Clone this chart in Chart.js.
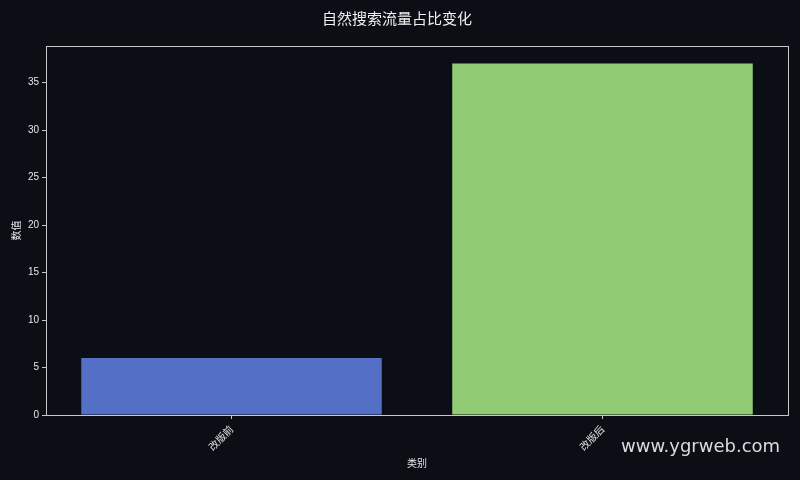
<!DOCTYPE html>
<html><head><meta charset="utf-8">
<script src="https://cdn.jsdelivr.net/npm/chart.js@4/dist/chart.umd.min.js"></script>
<style>
html,body{margin:0;padding:0;background:#0b0e15;}
#wrap{position:relative;width:800px;height:480px;}
#wm{position:absolute;left:621px;top:435px;font-family:"DejaVu Sans","Noto Sans",sans-serif;font-size:18px;color:#dcdcdc;white-space:nowrap;}
</style></head>
<body><div id="wrap"><canvas id="c" width="800" height="480"></canvas><div id="wm">www.ygrweb.com</div></div>
<script>
const categories = ["改版前", "改版后"];
const values = [6, 37];
const barColors = ["#5470c6", "#91cc75"];
const yTicks = [0, 5, 10, 15, 20, 25, 30, 35];
const titleText = "自然搜索流量占比变化";
const xTitle = "类别";
const yTitle = "数值";

const frame = {
  id: 'frame',
  afterDatasetsDraw(chart) {
    const a = chart.chartArea, ctx = chart.ctx;
    ctx.save();
    ctx.strokeStyle = '#c8c8c8';
    ctx.lineWidth = 1;
    ctx.strokeRect(Math.round(a.left) + 0.5, Math.round(a.top) + 0.5, Math.round(a.right - a.left), Math.round(a.bottom - a.top));
    ctx.restore();
  }
};

Chart.defaults.font.family = '"Noto Sans CJK SC","DejaVu Sans",sans-serif';
new Chart(document.getElementById('c'), {
  type: 'bar',
  data: { labels: categories, datasets: [{ data: values, backgroundColor: barColors, borderWidth: 0, categoryPercentage: 0.81, barPercentage: 1 }] },
  options: {
    responsive: false, animation: false, devicePixelRatio: 1,
    layout: { padding: { left: 6, right: 12, top: 0, bottom: 7 } },
    plugins: {
      legend: { display: false }, tooltip: { enabled: false },
      title: { display: true, text: titleText, color: '#f0f0f0', font: { size: 15, weight: 'normal' }, padding: { top: 9, bottom: 19 } }
    },
    scales: {
      x: {
        offset: true,
        grid: { display: true, offset: false, drawOnChartArea: false, drawTicks: true, tickLength: 4, color: '#c8c8c8' },
        border: { display: false },
        ticks: { color: '#e6e6e6', font: { size: 10 }, maxRotation: 45, minRotation: 45, padding: 4 },
        title: { display: true, text: xTitle, color: '#e6e6e6', font: { size: 10 }, padding: { top: 0 } },
        afterFit(s) { s.height = 58; }
      },
      y: {
        min: 0, max: 38.85,
        afterBuildTicks(s) { s.ticks = yTicks.map(v => ({ value: v })); },
        grid: { display: true, drawOnChartArea: false, drawTicks: true, tickLength: 4, color: '#c8c8c8' },
        border: { display: false },
        ticks: { color: '#e6e6e6', font: { size: 10, family: '"Liberation Sans","DejaVu Sans",sans-serif' }, padding: 3 },
        title: { display: true, text: yTitle, color: '#e6e6e6', font: { size: 10 }, padding: { bottom: 6 } },
        afterFit(s) { s.width = 40; }
      }
    }
  },
  plugins: [frame]
});
</script></body></html>
